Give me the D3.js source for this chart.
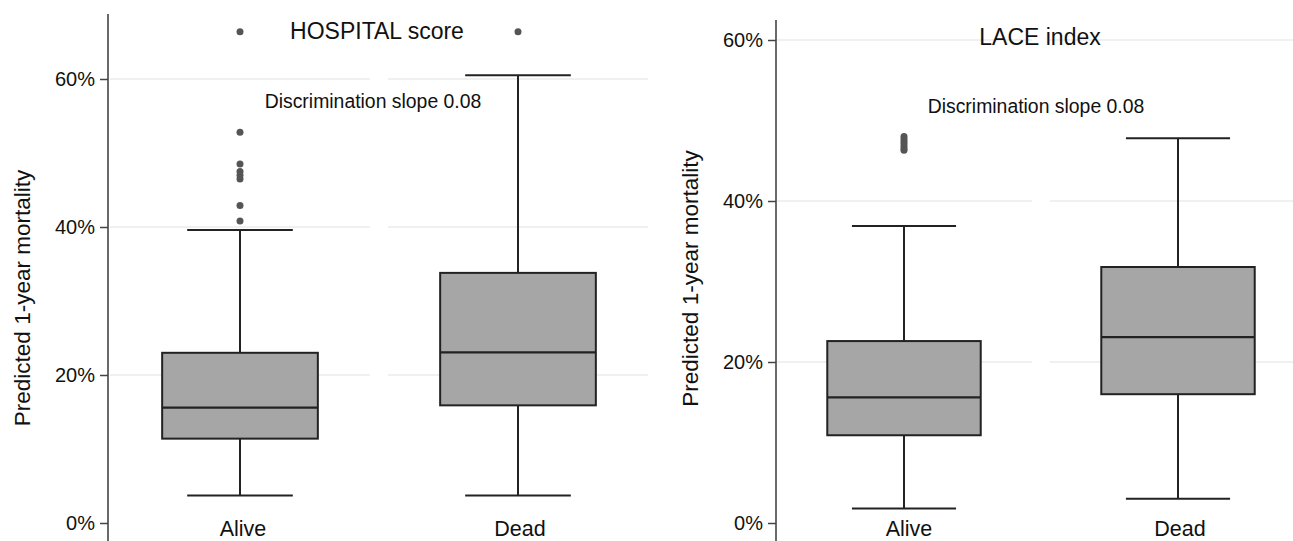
<!DOCTYPE html>
<html><head><meta charset="utf-8">
<script src="https://cdn.jsdelivr.net/npm/d3@7"></script>
<style>
html,body{margin:0;padding:0;background:#fff;}
svg{display:block;font-family:"Liberation Sans",Arial,Helvetica,sans-serif;}
</style></head>
<body>
<svg id="chart" width="1293" height="541"></svg>
<script>
// ---- data ----
const categories = ["Alive", "Dead"];
const yTicks = [0, 0.2, 0.4, 0.6];
const tickLabels = ["0%", "20%", "40%", "60%"];
const gridTicks = [0.2, 0.4, 0.6];

const panelTitles = ["HOSPITAL score", "LACE index"];
const annotations = ["Discrimination slope 0.08", "Discrimination slope 0.08"];
const yAxisTitle = "Predicted 1-year mortality";

// HOSPITAL score (Alive, Dead)
const hospitalLowerWhisker = [0.037, 0.037];
const hospitalQ1 = [0.114, 0.159];
const hospitalMedian = [0.156, 0.2305];
const hospitalQ3 = [0.230, 0.338];
const hospitalUpperWhisker = [0.396, 0.605];
const hospitalOutliersAlive = [0.664, 0.528, 0.485, 0.475, 0.470, 0.465, 0.429, 0.408];
const hospitalOutliersDead = [0.664];

// LACE index (Alive, Dead)
const laceLowerWhisker = [0.018, 0.030];
const laceQ1 = [0.109, 0.160];
const laceMedian = [0.156, 0.231];
const laceQ3 = [0.226, 0.318];
const laceUpperWhisker = [0.369, 0.478];
const laceOutliersAlive = [0.480, 0.477, 0.474, 0.471, 0.468, 0.465, 0.463];
const laceOutliersDead = [];

// ---- build ----
function stats(lo, q1, med, q3, hi, outA, outD) {
  return categories.map((c, i) => ({
    cat: c, lo: lo[i], q1: q1[i], med: med[i], q3: q3[i], hi: hi[i],
    out: i === 0 ? outA : outD
  }));
}
const panelsData = [
  stats(hospitalLowerWhisker, hospitalQ1, hospitalMedian, hospitalQ3, hospitalUpperWhisker, hospitalOutliersAlive, hospitalOutliersDead),
  stats(laceLowerWhisker, laceQ1, laceMedian, laceQ3, laceUpperWhisker, laceOutliersAlive, laceOutliersDead)
];

const layout = [
  { axisX: 108, band: [101, 657], yRange: [523, 79], axisTop: 14, titleY: 39, annY: 108, yTitleX: 30, labelDx: [3, 2], titleX: 377, annX: 373 },
  { axisX: 776, band: [767, 1315], yRange: [523, 40], axisTop: 20, titleY: 45, annY: 113, yTitleX: 698, labelDx: [5, 2], titleX: 1040, annX: 1036 }
];

const svg = d3.select("#chart");
const dark = "#222";

panelsData.forEach((data, p) => {
  const L = layout[p];
  const g = svg.append("g");
  const x = d3.scaleBand().domain(categories).range(L.band).padding(0);
  const y = d3.scaleLinear().domain([0, 0.6]).range(L.yRange);
  const step = x.step();
  const boxW = step * 0.56;
  const capW = step * 0.38;

  // gridlines per band
  categories.forEach(c => {
    const x0 = Math.max(x(c) + 9, L.axisX + 1);
    const x1 = Math.min(x(c) + x.bandwidth() - 9, 1293);
    g.selectAll(null).data(gridTicks).enter().append("line")
      .attr("x1", x0).attr("x2", x1)
      .attr("y1", d => y(d)).attr("y2", d => y(d))
      .attr("stroke", "#ebebeb").attr("stroke-width", 1.6);
  });

  // y axis
  const axis = d3.axisLeft(y).tickValues(yTicks).tickFormat((d, i) => tickLabels[i]).tickSize(8).tickPadding(5);
  const ag = g.append("g").attr("transform", `translate(${L.axisX},0)`).call(axis);
  ag.attr("font-size", 20).attr("font-family", "'Liberation Sans',Arial,sans-serif");
  ag.select(".domain").remove();
  ag.selectAll(".tick line").attr("stroke", "#444").attr("stroke-width", 1.5);
  ag.selectAll(".tick text").style("font-size", "20px").attr("fill", "#111");
  g.append("line").attr("x1", L.axisX).attr("x2", L.axisX)
    .attr("y1", L.axisTop).attr("y2", 541)
    .attr("stroke", "#444").attr("stroke-width", 1.6);

  // boxes
  const bg = g.selectAll(".box").data(data).enter().append("g");
  const cx = d => x(d.cat) + x.bandwidth() / 2;
  bg.append("line").attr("x1", cx).attr("x2", cx)
    .attr("y1", d => y(d.hi)).attr("y2", d => y(d.q3))
    .attr("stroke", dark).attr("stroke-width", 2);
  bg.append("line").attr("x1", cx).attr("x2", cx)
    .attr("y1", d => y(d.q1)).attr("y2", d => y(d.lo))
    .attr("stroke", dark).attr("stroke-width", 2);
  bg.append("line").attr("x1", d => cx(d) - capW / 2).attr("x2", d => cx(d) + capW / 2)
    .attr("y1", d => y(d.hi)).attr("y2", d => y(d.hi))
    .attr("stroke", dark).attr("stroke-width", 2);
  bg.append("line").attr("x1", d => cx(d) - capW / 2).attr("x2", d => cx(d) + capW / 2)
    .attr("y1", d => y(d.lo)).attr("y2", d => y(d.lo))
    .attr("stroke", dark).attr("stroke-width", 2);
  bg.append("rect").attr("x", d => cx(d) - boxW / 2).attr("width", boxW)
    .attr("y", d => y(d.q3)).attr("height", d => y(d.q1) - y(d.q3))
    .attr("fill", "#a6a6a6").attr("stroke", dark).attr("stroke-width", 2);
  bg.append("line").attr("x1", d => cx(d) - boxW / 2).attr("x2", d => cx(d) + boxW / 2)
    .attr("y1", d => y(d.med)).attr("y2", d => y(d.med))
    .attr("stroke", dark).attr("stroke-width", 2.2);
  bg.each(function(d) {
    d3.select(this).selectAll("circle").data(d.out).enter().append("circle")
      .attr("cx", cx(d)).attr("cy", v => y(v)).attr("r", 3.5).attr("fill", "#555");
  });

  // category labels
  g.selectAll(".cl").data(categories).enter().append("text")
    .attr("x", (c, i) => x(c) + x.bandwidth() / 2 + L.labelDx[i]).attr("y", 536)
    .attr("text-anchor", "middle").style("font-size", "21.5px").attr("fill", "#111").text(c => c);

  // titles
  g.append("text").attr("x", L.titleX).attr("y", L.titleY).attr("text-anchor", "middle")
    .style("font-size", "23px").attr("fill", "#111").text(panelTitles[p]);
  g.append("text").attr("x", L.annX).attr("y", L.annY).attr("text-anchor", "middle")
    .style("font-size", "19.4px").attr("fill", "#111").text(annotations[p]);

  // y axis title
  g.append("text").attr("transform", `translate(${L.yTitleX},${(L.yRange[0] + L.yRange[1]) / 2 - 3}) rotate(-90)`)
    .attr("text-anchor", "middle").style("font-size", "22.5px").attr("fill", "#111").text(yAxisTitle);
});
</script>
</body></html>
